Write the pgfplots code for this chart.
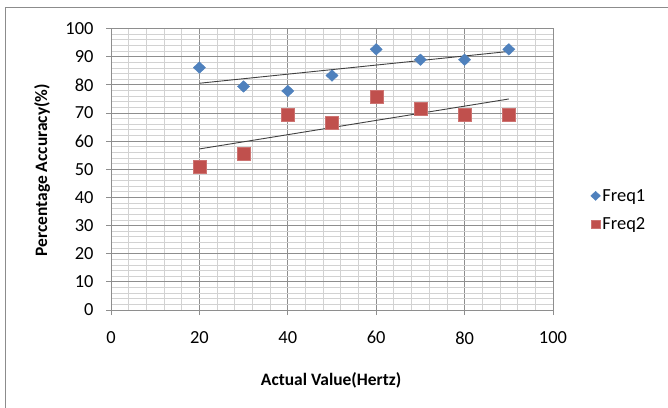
\documentclass[border=0pt]{standalone}
\usepackage{pgfplots}
\usepackage{pgfplotstable}
\pgfplotsset{compat=1.18}
\usepackage{fontspec}
\setmainfont{Carlito}
\definecolor{xblue}{HTML}{4F81BD}
\definecolor{xred}{HTML}{C0504D}
\definecolor{majgrid}{HTML}{8E8E8E}
\definecolor{mingrid}{HTML}{D2D2D2}
\pgfplotstableread{
x f1 f2
20 86.1 51.0
30 79.4 55.6
40 77.8 69.4
50 83.3 66.7
60 92.6 75.8
70 88.9 71.4
80 88.9 69.4
90 92.6 69.4
}\data
\begin{document}
\begin{tikzpicture}
\useasboundingbox (-111bp,-98bp) rectangle (557bp,310bp);
\draw[color=black!45, line width=0.8bp] (-105.5bp,-150bp) rectangle (700bp,302.5bp);
\begin{axis}[
  at={(0,0)}, anchor=south west,
  scale only axis, width=442bp, height=281.5bp,
  xmin=0, xmax=100, ymin=0, ymax=100,
  xtick={0,20,...,100}, ytick={0,10,...,100},
  minor x tick num=4, minor y tick num=4,
  grid=both,
  major grid style={color=majgrid, line width=0.8bp},
  minor grid style={color=mingrid, line width=0.8bp},
  axis lines=left, axis line style={-, color=majgrid, line width=0.8bp},
  tick align=outside, major tick length=5bp, minor tick length=0pt,
  tick style={color=majgrid, line width=0.8bp},
  /pgf/number format/assume math mode=true,
  ticklabel style={font=\fontsize{18.5}{22}\selectfont, text=black},
  xticklabel style={yshift=-13bp},
  yticklabel style={xshift=-9bp},
  xlabel={\textbf{Actual Value(Hertz)}},
  ylabel={\textbf{Percentage Accuracy(\%)}},
  label style={font=\fontsize{17.5}{20}\selectfont},
  x label style={at={(axis description cs:0.498,-0.249)}, anchor=center},
  y label style={at={(axis description cs:-0.156,0.497)}, anchor=center, rotate=0},
  legend style={draw=none, fill=none, at={(axis description cs:1.085,0.355)}, anchor=west,
    font=\fontsize{18.5}{22}\selectfont, row sep=11bp, inner sep=0pt},
  legend cell align=left,
  clip=false,
]
\addplot[only marks, mark=diamond*, mark size=5.8bp, mark options={xscale=1.4, fill=xblue, draw=xblue}, legend image post style={mark size=4.6bp}] table[x=x, y=f1] {\data};
\addlegendentry{Freq1}
\addplot[only marks, mark=square*, mark size=6.5bp, mark options={fill=xred, draw=xred!80!white}, legend image post style={mark size=4.3bp}] table[x=x, y=f2] {\data};
\addlegendentry{Freq2}
\addplot[forget plot, no marks, color=black!75, line width=0.9bp] table[x=x, y={create col/linear regression={y=f1}}] {\data};
\addplot[forget plot, no marks, color=black!75, line width=0.9bp] table[x=x, y={create col/linear regression={y=f2}}] {\data};
\end{axis}
\end{tikzpicture}
\end{document}
